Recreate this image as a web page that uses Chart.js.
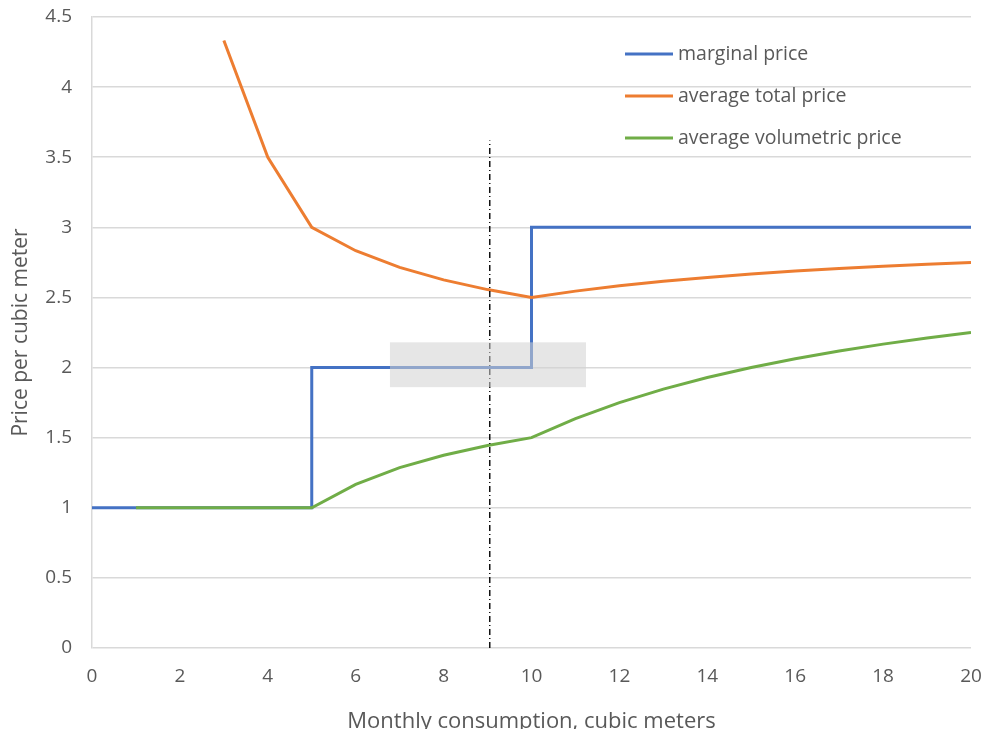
<!DOCTYPE html>
<html>
<head>
<meta charset="utf-8">
<script src="https://cdn.jsdelivr.net/npm/chart.js@4.4.1/dist/chart.umd.min.js"></script>
<style>
  html, body { margin: 0; padding: 0; background: #fff; overflow: hidden; }
  #wrap { width: 987px; height: 729px; overflow: hidden; }
</style>
</head>
<body>
<div id="wrap"><canvas id="c" width="987" height="735"></canvas></div>
<script>
// ---- data ----
const seriesNames = ['marginal price', 'average total price', 'average volumetric price'];

const marginalX = [0, 5, 5, 10, 10, 20];
const marginalY = [1, 1, 2, 2, 3, 3];

const totalX = [3, 4, 5, 6, 7, 8, 9, 10, 11, 12, 13, 14, 15, 16, 17, 18, 19, 20];
const totalY = [4.333, 3.5, 3.0, 2.833, 2.714, 2.625, 2.556, 2.5, 2.545, 2.583, 2.615, 2.643, 2.667, 2.688, 2.706, 2.722, 2.737, 2.75];

const volX = [1, 2, 3, 4, 5, 6, 7, 8, 9, 10, 11, 12, 13, 14, 15, 16, 17, 18, 19, 20];
const volY = [1, 1, 1, 1, 1, 1.167, 1.286, 1.375, 1.444, 1.5, 1.636, 1.75, 1.846, 1.929, 2.0, 2.063, 2.118, 2.167, 2.211, 2.25];

const markerX = [9.05, 9.05];
const markerY = [0, 3.62];

const boxX = [6.78, 11.24];
const boxY = [1.86, 2.18];

const xTicks = [0, 2, 4, 6, 8, 10, 12, 14, 16, 18, 20];
const yTicks = [0, 0.5, 1, 1.5, 2, 2.5, 3, 3.5, 4, 4.5];

const colors = ['#4472C4', '#ED7D31', '#70AD47'];
const FONT = "'Open Sans', 'Noto Sans', sans-serif";
const TEXT = '#595959';

const pts = (xs, ys) => xs.map((x, i) => ({ x: x, y: ys[i] }));

const boxPlugin = {
  id: 'box',
  afterDatasetsDraw(chart) {
    const { ctx, scales } = chart;
    const x0 = scales.x.getPixelForValue(boxX[0]);
    const x1 = scales.x.getPixelForValue(boxX[1]);
    const y0 = scales.y.getPixelForValue(boxY[1]);
    const y1 = scales.y.getPixelForValue(boxY[0]);
    ctx.save();
    ctx.fillStyle = 'rgba(210,210,210,0.55)';
    ctx.fillRect(x0, y0, x1 - x0, y1 - y0);
    ctx.restore();
  }
};

const legendPlugin = {
  id: 'insideLegend',
  afterDraw(chart) {
    const { ctx, chartArea } = chart;
    const lx0 = chartArea.right - 346;
    const lx1 = lx0 + 48;
    const top = chartArea.top + 37;
    const gap = 42;
    ctx.save();
    ctx.font = '19.5px ' + FONT;
    ctx.textBaseline = 'middle';
    ctx.fillStyle = TEXT;
    for (let i = 0; i < 3; i++) {
      const y = top + i * gap;
      ctx.strokeStyle = colors[i];
      ctx.lineWidth = 3;
      ctx.beginPath();
      ctx.moveTo(lx0, y);
      ctx.lineTo(lx1, y);
      ctx.stroke();
      ctx.fillText(seriesNames[i], lx1 + 5, y);
    }
    ctx.restore();
  }
};

new Chart(document.getElementById('c'), {
  type: 'line',
  data: {
    datasets: [
      { label: seriesNames[0], data: pts(marginalX, marginalY), borderColor: colors[0], borderWidth: 3, pointRadius: 0, tension: 0, order: 3 },
      { label: seriesNames[1], data: pts(totalX, totalY), borderColor: colors[1], borderWidth: 3, pointRadius: 0, tension: 0, order: 2 },
      { label: seriesNames[2], data: pts(volX, volY), borderColor: colors[2], borderWidth: 3, pointRadius: 0, tension: 0, order: 1 },
      { label: 'marker', data: pts(markerX, markerY), borderColor: '#111', borderWidth: 1.5, borderDash: [6, 3, 1, 3], pointRadius: 0, order: 0 }
    ]
  },
  options: {
    responsive: false,
    animation: false,
    layout: { padding: { left: 0, right: 16, top: 17, bottom: 0 } },
    plugins: { legend: { display: false }, tooltip: { enabled: false } },
    scales: {
      x: {
        type: 'linear', min: 0, max: 20,
        afterBuildTicks: (s) => { s.ticks = xTicks.map(v => ({ value: v })); },
        afterFit: (s) => { s.height = 87; s.paddingLeft = 0; s.paddingRight = 0; },
        grid: { display: false, drawTicks: false },
        border: { display: false },
        ticks: { color: TEXT, font: { family: FONT, size: 19 }, padding: 17, callback: (v) => String(v) },
        title: { display: true, text: 'Monthly consumption, cubic meters', color: TEXT, font: { family: FONT, size: 22 }, padding: { top: 10, bottom: 0 } }
      },
      y: {
        min: 0, max: 4.5,
        afterBuildTicks: (s) => { s.ticks = yTicks.map(v => ({ value: v })); },
        afterFit: (s) => { s.width = 92; s.paddingTop = 0; s.paddingBottom = 0; },
        grid: { color: '#d9d9d9', lineWidth: 1.5, drawTicks: false },
        border: { display: true, color: '#d9d9d9', width: 1.5 },
        ticks: { color: TEXT, font: { family: FONT, size: 19 }, padding: 20, callback: (v) => String(v) },
        title: { display: true, text: 'Price per cubic meter', color: TEXT, font: { family: FONT, size: 21 }, padding: { top: 8, bottom: 8 } }
      }
    }
  },
  plugins: [boxPlugin, legendPlugin]
});
</script>
</body>
</html>
